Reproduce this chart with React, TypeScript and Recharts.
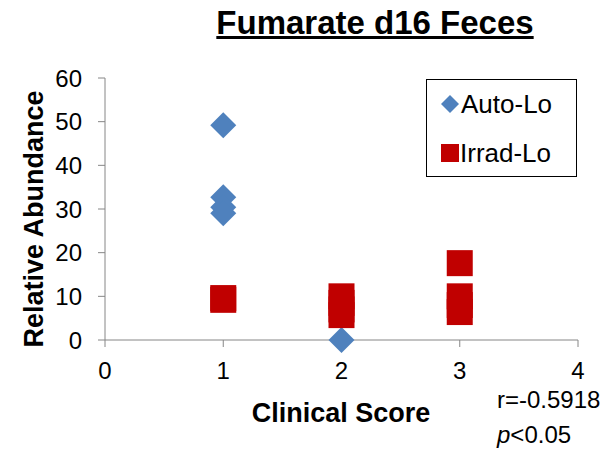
import { ScatterChart, Scatter, XAxis, YAxis, Legend, Label } from 'recharts'

const xTicks = [0, 1, 2, 3, 4]
const yTicks = [0, 10, 20, 30, 40, 50, 60]

const autoScores = [1, 1, 1, 1, 2]
const autoValues = [49.2, 32.7, 30.4, 29.0, 0]

const irradScores = [1, 1, 2, 2, 2, 2, 3, 3, 3, 3]
const irradValues = [9.6, 9.2, 10.0, 8.5, 7.0, 5.7, 17.6, 10.0, 8.0, 6.4]

const autoData = autoScores.map((x, i) => ({ x, y: autoValues[i] }))
const irradData = irradScores.map((x, i) => ({ x, y: irradValues[i] }))

const BLUE = '#4F81BD'
const RED = '#C00000'
const AXIS = '#868686'
const FONT = '"Liberation Sans", Arial, sans-serif'

const Diamond = (props: any) => {
  const { cx, cy } = props
  const r = 13
  return (
    <polygon
      points={`${cx},${cy - r} ${cx + r},${cy} ${cx},${cy + r} ${cx - r},${cy}`}
      fill={BLUE}
    />
  )
}

const Square = (props: any) => {
  const { cx, cy } = props
  const h = 13
  return <rect x={cx - h} y={cy - h} width={h * 2} height={h * 2} fill={RED} />
}

const LegendBox = () => (
  <div
    style={{
      border: '1.5px solid #000',
      width: 151,
      height: 98,
      boxSizing: 'border-box',
      fontFamily: FONT,
      fontSize: 26,
      color: '#000',
      background: '#fff',
      position: 'relative',
    }}
  >
    <div style={{ position: 'absolute', left: 14, top: 9, display: 'flex', alignItems: 'center', lineHeight: '30px' }}>
      <svg width={18} height={18}>
        <polygon points="9,0 18,9 9,18 0,9" fill={BLUE} />
      </svg>
      <span style={{ marginLeft: 2 }}>Auto-Lo</span>
    </div>
    <div style={{ position: 'absolute', left: 14, top: 58, display: 'flex', alignItems: 'center', lineHeight: '30px' }}>
      <svg width={18} height={18}>
        <rect x={0} y={0} width={18} height={18} fill={RED} />
      </svg>
      <span style={{ marginLeft: 1 }}>Irrad-Lo</span>
    </div>
  </div>
)

export default function App() {
  return (
    <div style={{ position: 'absolute', left: 0, top: 0, width: 611, height: 452, background: '#fff' }}>
      <div
        style={{
          position: 'absolute',
          left: 0,
          width: 750,
          top: 4,
          textAlign: 'center',
          fontFamily: FONT,
          fontWeight: 'bold',
          fontSize: 33,
          textDecoration: 'underline',
        }}
      >
        Fumarate d16 Feces
      </div>
      <ScatterChart width={611} height={452} margin={{ top: 78, right: 33, bottom: 82, left: 0 }}>
        <XAxis
          type="number"
          dataKey="x"
          domain={[0, 4]}
          ticks={xTicks}
          height={30}
          stroke={AXIS}
          tickSize={7}
          tick={{ fill: '#000', fontSize: 24, fontFamily: FONT }}
          tickMargin={15}
        >
          <Label
            content={() => (
              <text x={341} y={422} textAnchor="middle" fontFamily={FONT} fontWeight="bold" fontSize={27} fill="#000">
                Clinical Score
              </text>
            )}
          />
        </XAxis>
        <YAxis
          type="number"
          dataKey="y"
          domain={[0, 60]}
          ticks={yTicks}
          width={105}
          stroke={AXIS}
          tickSize={7}
          tick={{ fill: '#000', fontSize: 24, fontFamily: FONT }}
          tickMargin={16}
        >
          <Label
            content={() => (
              <text
                x={0}
                y={0}
                transform="translate(43,219) rotate(-90)"
                textAnchor="middle"
                fontFamily={FONT}
                fontWeight="bold"
                fontSize={27}
                fill="#000"
              >
                Relative Abundance
              </text>
            )}
          />
        </YAxis>
        <Legend
          layout="horizontal"
          verticalAlign="middle"
          content={<LegendBox />}
          wrapperStyle={{ position: 'absolute', left: 426, top: 79, width: 151, height: 98 }}
        />
        <Scatter name="Auto-Lo" data={autoData} fill={BLUE} shape={Diamond} isAnimationActive={false} />
        <Scatter name="Irrad-Lo" data={irradData} fill={RED} shape={Square} isAnimationActive={false} />
      </ScatterChart>
      <div style={{ position: 'absolute', left: 497, top: 382, fontFamily: FONT, fontSize: 24, lineHeight: '35px' }}>
        <div>r=-0.5918</div>
        <div>
          <i>p</i>&lt;0.05
        </div>
      </div>
    </div>
  )
}
